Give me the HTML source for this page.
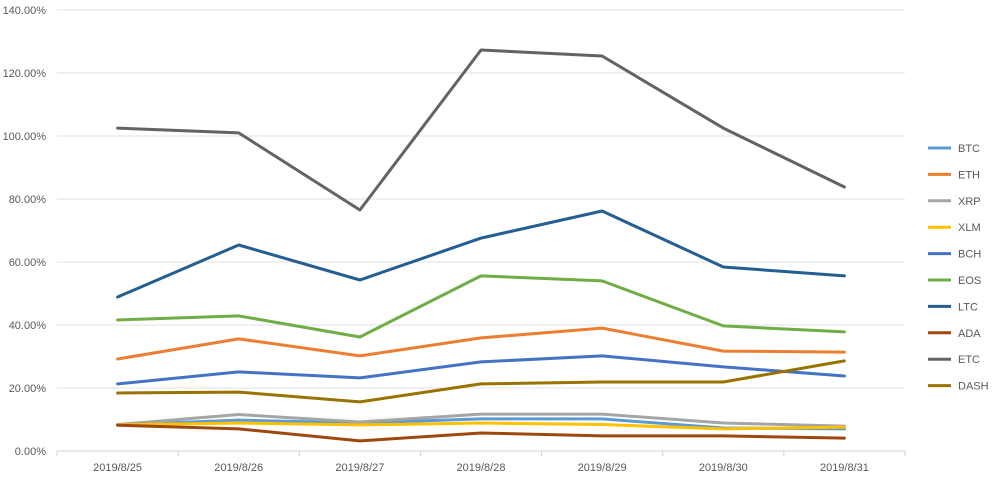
<!DOCTYPE html>
<html><head><meta charset="utf-8"><style>
body{margin:0;background:#fff;font-family:"Liberation Sans",sans-serif;}
svg text{font-family:"Liberation Sans",sans-serif;font-size:11px;fill:#595959;}
</style></head><body>
<svg id="chart" width="998" height="480" xmlns="http://www.w3.org/2000/svg"></svg>
<script>
const categories=["2019/8/25","2019/8/26","2019/8/27","2019/8/28","2019/8/29","2019/8/30","2019/8/31"];
const seriesNames=["BTC","ETH","XRP","XLM","BCH","EOS","LTC","ADA","ETC","DASH"];
const seriesColors=["#5B9BD5","#ED7D31","#A5A5A5","#FFC000","#4472C4","#70AD47","#255E91","#9E480E","#636363","#997300"];
const btc=[8.3,9.8,8.9,10.2,10.2,7.3,7.0];
const eth=[29.2,35.6,30.2,35.9,39.0,31.7,31.4];
const xrp=[8.4,11.6,9.2,11.7,11.7,8.9,7.9];
const xlm=[8.3,8.9,8.3,8.9,8.4,7.0,7.6];
const bch=[21.3,25.1,23.2,28.3,30.2,26.7,23.8];
const eos=[41.6,42.9,36.2,55.6,54.0,39.7,37.8];
const ltc=[48.9,65.4,54.3,67.6,76.2,58.4,55.6];
const ada=[8.2,7.0,3.2,5.7,4.8,4.8,4.1];
const etc=[102.5,101.0,76.5,127.3,125.4,102.5,83.8];
const dash=[18.4,18.7,15.6,21.3,21.9,21.9,28.6];
const yTicks=[0,20,40,60,80,100,120,140];
const seriesValues=[btc,eth,xrp,xlm,bch,eos,ltc,ada,etc,dash];

const svg=document.getElementById('chart');
const NS="http://www.w3.org/2000/svg";
const L=57,R=905,T=10,B=451;
const yMax=140;
const y=v=>B-(v/yMax)*(B-T);
const step=(R-L)/categories.length;
const x=i=>L+step*(i+0.5);
function mk(tag,attrs){const e=document.createElementNS(NS,tag);for(const k in attrs)e.setAttribute(k,attrs[k]);svg.appendChild(e);return e;}

yTicks.forEach(t=>{
  const g=mk('line',{x1:L,x2:R,y1:y(t),y2:y(t),stroke:t===0?'#d0d0d0':'#e0e0e0','stroke-width':1});
  
  
  const tx=mk('text',{x:46,y:y(t)+4,'text-anchor':'end'});
  tx.textContent=t.toFixed(2)+'%';
  
  
});
for(let i=0;i<=categories.length;i++){
  const tk=mk('line',{x1:L+step*i,x2:L+step*i,y1:B,y2:B+5,stroke:'#d0d0d0'});
  
  
}
categories.forEach((c,i)=>{
  const tx=mk('text',{x:x(i),y:471,'text-anchor':'middle'});
  tx.textContent=c;
  
  
});
seriesValues.forEach((vals,s)=>{
  const pts=vals.map((v,i)=>x(i).toFixed(1)+','+y(v).toFixed(1)).join(' ');
  const pl=mk('polyline',{points:pts,fill:'none',stroke:seriesColors[s],'stroke-width':3,'stroke-linejoin':'round','stroke-linecap':'round'});
  
  
  const ly=148+s*26.4;
  const ll=mk('line',{x1:928,x2:951,y1:ly,y2:ly,stroke:seriesColors[s],'stroke-width':3});
  
  
  const lt=mk('text',{x:958,y:ly+4});
  lt.textContent=seriesNames[s];
  
  
});
</script>
</body></html>
